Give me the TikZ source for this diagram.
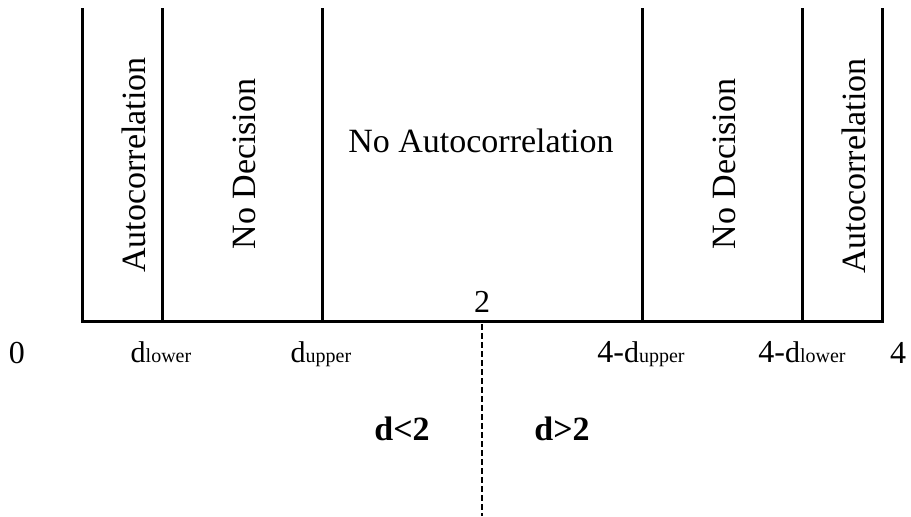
\documentclass[tikz,border=0pt]{standalone}
\usepackage{fontspec}
\setmainfont{Liberation Serif}
\newcommand{\dbound}[1]{{\fontsize{15}{17}\selectfont d}{\fontsize{10}{12}\selectfont #1}}

\begin{document}
\begin{tikzpicture}[x=0.5pt, y=-0.5pt,
    bar/.style={line width=1.5pt},
    split/.style={line width=1pt, dash pattern=on 3pt off 1.5pt},
    region/.style={rotate=90, anchor=base, inner sep=0pt, font=\fontsize{17}{20}\selectfont},
    ticklab/.style={anchor=base, inner sep=0pt, font=\fontsize{16}{19}\selectfont},
    sidelab/.style={anchor=base, inner sep=0pt, font=\bfseries\fontsize{17}{20}\selectfont}]
  \useasboundingbox (0,0) rectangle (911,516);
  % region boundaries
  \foreach \name/\x in {a/82, b/162, c/322, e/642, f/802, g/882} {
    \coordinate (\name-top) at (\x,8);
    \coordinate (\name-bot) at (\x,321);
  }
  \draw[bar] (a-top) -- (a-bot) -- (g-bot) -- (g-top);
  \foreach \name in {b,c,e,f}
    \draw[bar] (\name-top) -- (\name-bot);
  % d = 2 split
  \coordinate (mid-top) at (482,324);
  \coordinate (mid-bot) at (482,516);
  \draw[split] (mid-top) -- (mid-bot);
  % region labels
  \node[region] (acleft) at (145,165) {Autocorrelation};
  \node[region] (ndleft) at (255,164) {No Decision};
  \node[ticklab, font=\fontsize{17}{20}\selectfont] (noac) at (481,152) {No Autocorrelation};
  \node[region] (ndright) at (735,164) {No Decision};
  \node[region] (acright) at (865,166) {Autocorrelation};
  % axis labels
  \node[ticklab] (two) at (482,312) {2};
  \node[ticklab] (zero) at (17,363) {0};
  \node[ticklab] (dlow) at (161,362) {\dbound{lower}};
  \node[ticklab] (dup) at (321,362) {\dbound{upper}};
  \node[ticklab] (fdup) at (641,362) {4-\dbound{upper}};
  \node[ticklab] (fdlow) at (802,362) {4-\dbound{lower}};
  \node[ticklab] (four) at (898,363) {4};
  % sides
  \node[sidelab] (less) at (402,440) {d<2};
  \node[sidelab] (more) at (562,440) {d>2};
\end{tikzpicture}
\end{document}
